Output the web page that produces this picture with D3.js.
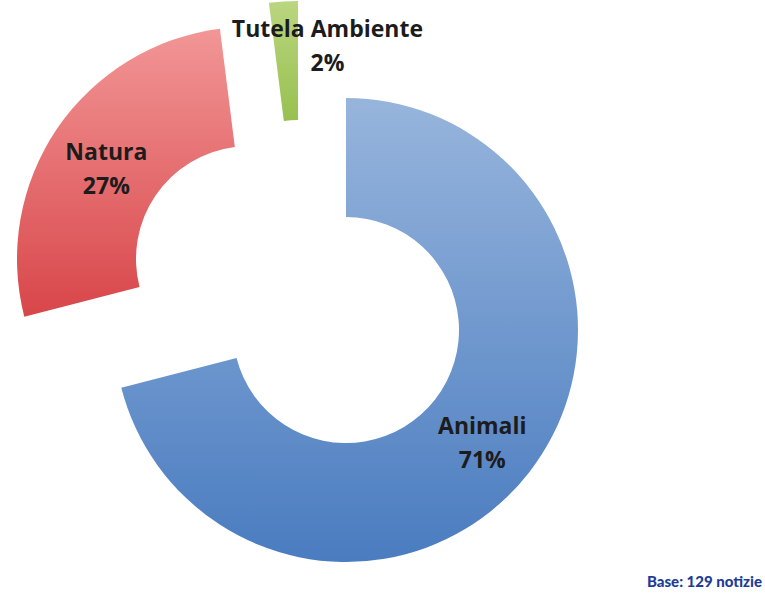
<!DOCTYPE html>
<html>
<head>
<meta charset="utf-8">
<script src="https://cdn.jsdelivr.net/npm/d3@7"></script>
<style>
  html, body { margin: 0; padding: 0; background: #ffffff; }
  svg { display: block; }
</style>
</head>
<body>
<svg id="chart" width="765" height="593"></svg>
<script>
// Topic shares of the news items (percent)
const categories = ["Animali", "Natura", "Tutela Ambiente"];
const shares = [71, 27, 2];
const baseNote = "Base: 129 notizie";

// Appearance
const W = 765, H = 593;
const cx = 346, cy = 330;
const outerR = 232, innerR = 113;
const gradStops = [
  ["#97b5dc", "#4a7cc0"],   // Animali
  ["#f29696", "#d8464a"],   // Natura
  ["#bad67f", "#98c050"]    // Tutela Ambiente
];
// Exploded slices are pulled away from the ring
const explodeOffset = [[0, 0], [-97, -71], [-48, -97]];
const labelFont = "'Open Sans', Lato, sans-serif";
const noteFont = "Lato, 'Open Sans', sans-serif";

const svg = d3.select("#chart");
const defs = svg.append("defs");

gradStops.forEach((g, i) => {
  const lg = defs.append("linearGradient")
    .attr("id", "grad" + i)
    .attr("x1", 0).attr("y1", 0).attr("x2", 0).attr("y2", 1);
  lg.append("stop").attr("offset", "0%").attr("stop-color", g[0]);
  lg.append("stop").attr("offset", "100%").attr("stop-color", g[1]);
});

const soft = defs.append("filter").attr("id", "soft")
  .attr("x", "-10%").attr("y", "-10%").attr("width", "120%").attr("height", "120%");
soft.append("feGaussianBlur").attr("stdDeviation", 0.7);

const data = categories.map((c, i) => ({ name: c, value: shares[i], idx: i }));

const pie = d3.pie().value(d => d.value).sort(null)
  .startAngle(0).endAngle(2 * Math.PI);
const arc = d3.arc().innerRadius(innerR).outerRadius(outerR);

const arcs = pie(data);

const g = svg.append("g").attr("transform", `translate(${cx},${cy})`);

g.selectAll("path.slice")
  .data(arcs)
  .join("path")
  .attr("class", "slice")
  .attr("transform", d => `translate(${explodeOffset[d.data.idx][0]},${explodeOffset[d.data.idx][1]})`)
  .attr("d", arc)
  .attr("fill", d => `url(#grad${d.data.idx})`)
  .attr("filter", "url(#soft)");

// Labels: inside the ring for the large slices, above the thin one
const fmt = v => v + "%";
arcs.forEach(d => {
  const i = d.data.idx;
  let x, y;
  if (i === 2) {
    const o = explodeOffset[i];
    const a = (d.startAngle + d.endAngle) / 2;
    x = Math.sin(a) * outerR + o[0] + 44;
    y = -Math.cos(a) * outerR + o[1] + 38;
  } else {
    const c = arc.centroid(d);
    x = c[0] + explodeOffset[i][0];
    y = c[1] + explodeOffset[i][1];
  }
  const t = g.append("text")
    .attr("text-anchor", "middle")
    .attr("font-family", labelFont)
    .attr("font-weight", 700)
    .attr("font-size", 23)
    .attr("fill", "#1c1c1c");
  t.append("tspan").attr("x", x).attr("y", y - 2).text(d.data.name);
  t.append("tspan").attr("x", x).attr("y", y + 32).text(fmt(d.data.value));
});

svg.append("text")
  .attr("x", 762).attr("y", 587)
  .attr("text-anchor", "end")
  .attr("font-family", noteFont)
  .attr("font-weight", 900)
  .attr("font-size", 15)
  .attr("fill", "#1f3c96")
  .text(baseNote);
</script>
</body>
</html>
